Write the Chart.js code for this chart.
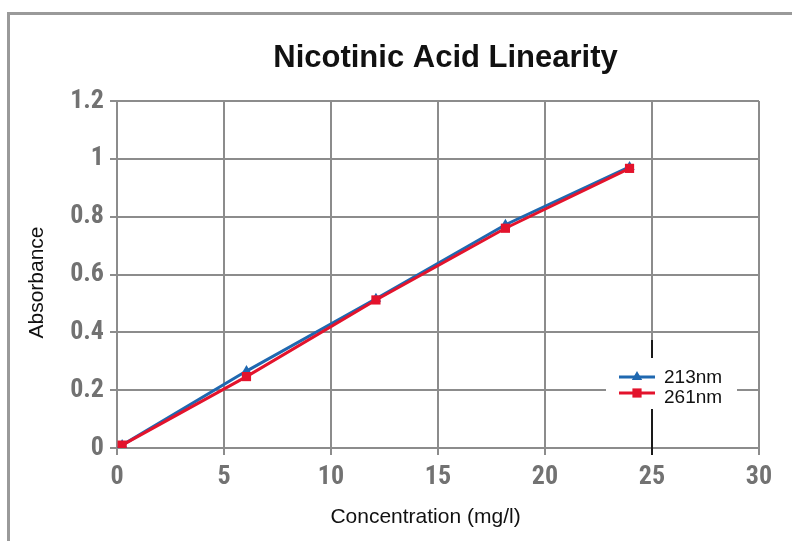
<!DOCTYPE html>
<html>
<head>
<meta charset="utf-8">
<script src="https://cdn.jsdelivr.net/npm/chart.js@4/dist/chart.umd.min.js"></script>
<style>
  html, body { margin: 0; padding: 0; background: #fff; overflow: hidden; }
  #frame { position: absolute; left: 7px; top: 12px; width: 900px; height: 700px; border: 3px solid #9a9a9a; }
  #c { position: absolute; left: 0; top: 0; }
</style>
</head>
<body>
<div id="frame"></div>
<canvas id="c" width="792" height="541"></canvas>
<script>
// data
const concentration = [0.24, 6.05, 12.1, 18.15, 23.95];
const abs213 = [0.01, 0.266, 0.516, 0.772, 0.972];
const abs261 = [0.01, 0.247, 0.512, 0.760, 0.967];
const xTicks = [0, 5, 10, 15, 20, 25, 30];
const yTicks = [0, 0.2, 0.4, 0.6, 0.8, 1, 1.2];

const BLUE = "#1f68b0";
const RED = "#e3132c";
const GRID = "#8c8c8c";
const tickFont = { family: "'Roboto Condensed', 'Open Sans Condensed', sans-serif", size: 26, weight: "bold" };

const pts = (ys) => concentration.map((x, i) => ({ x: x, y: ys[i] }));

// title, axis titles and the little legend box
const textsPlugin = {
  id: "texts",
  afterDraw(chart) {
    const ctx = chart.ctx;
    ctx.save();
    ctx.fillStyle = "#111";
    ctx.textAlign = "center";
    ctx.textBaseline = "alphabetic";
    ctx.font = "bold 31px 'Liberation Sans', Arial, sans-serif";
    ctx.fillText("Nicotinic Acid Linearity", 445.5, 67);
    ctx.font = "21px 'Liberation Sans', Arial, sans-serif";
    ctx.fillText("Concentration (mg/l)", 425.5, 523);
    ctx.translate(43, 282.5);
    ctx.rotate(-Math.PI / 2);
    ctx.fillText("Absorbance", 0, 0);
    ctx.restore();

    // legend box, it cuts the 25 grid line; the bits next to it are dark
    const x25 = chart.scales.x.getPixelForValue(25);
    ctx.save();
    ctx.fillStyle = "#fff";
    ctx.fillRect(606, 358, 131, 51);
    ctx.strokeStyle = "#1a1a1a";
    ctx.lineWidth = 2;
    ctx.beginPath();
    ctx.moveTo(x25, 340);
    ctx.lineTo(x25, 358);
    ctx.moveTo(x25, 409);
    ctx.lineTo(x25, chart.chartArea.bottom + 7);
    ctx.stroke();
    chart.data.datasets.forEach((ds, i) => {
      const y = 377 + i * 16;
      ctx.strokeStyle = ds.borderColor;
      ctx.lineWidth = 3;
      ctx.beginPath();
      ctx.moveTo(619, y);
      ctx.lineTo(655, y);
      ctx.stroke();
      ctx.fillStyle = ds.pointBackgroundColor;
      Chart.helpers.drawPoint(ctx, { pointStyle: ds.pointStyle, radius: ds.pointRadius, borderWidth: 0 }, 637, y);
      ctx.fillStyle = "#111";
      ctx.font = "19px 'Liberation Sans', Arial, sans-serif";
      ctx.textAlign = "left";
      ctx.textBaseline = "alphabetic";
      ctx.fillText(ds.label, 664, 383 + i * 20);
    });
    ctx.restore();
  }
};

new Chart(document.getElementById("c"), {
  type: "line",
  data: {
    datasets: [
      {
        label: "213nm",
        data: pts(abs213),
        borderColor: BLUE,
        backgroundColor: BLUE,
        pointBackgroundColor: BLUE,
        pointBorderWidth: 0,
        pointStyle: "triangle",
        pointRadius: 6,
        borderWidth: 3,
        tension: 0,
        order: 1
      },
      {
        label: "261nm",
        data: pts(abs261),
        borderColor: RED,
        backgroundColor: RED,
        pointBackgroundColor: RED,
        pointBorderWidth: 0,
        pointStyle: "rect",
        pointRadius: 6.5,
        borderWidth: 3,
        tension: 0,
        order: 0
      }
    ]
  },
  options: {
    responsive: false,
    animation: false,
    layout: { padding: { top: 101, right: 33, bottom: 0, left: 0 } },
    plugins: {
      legend: { display: false },
      title: { display: false },
      tooltip: { enabled: false }
    },
    scales: {
      x: {
        type: "linear",
        min: 0,
        max: 30,
        afterFit: (s) => { s.height = 93; },
        afterBuildTicks: (s) => { s.ticks = xTicks.map((v) => ({ value: v })); },
        grid: { color: GRID, lineWidth: 2, tickLength: 7 },
        border: { color: GRID, width: 2 },
        ticks: { color: "#727272", font: tickFont, padding: 7, maxRotation: 0, callback: (v) => String(v) }
      },
      y: {
        type: "linear",
        min: 0,
        max: 1.2,
        afterFit: (s) => { s.width = 117; },
        afterBuildTicks: (s) => { s.ticks = yTicks.map((v) => ({ value: v })); },
        grid: { color: GRID, lineWidth: 2, tickLength: 7 },
        border: { color: GRID, width: 2 },
        ticks: { color: "#727272", font: tickFont, padding: 6, callback: (v) => String(v) }
      }
    }
  },
  plugins: [textsPlugin]
});
</script>
</body>
</html>
